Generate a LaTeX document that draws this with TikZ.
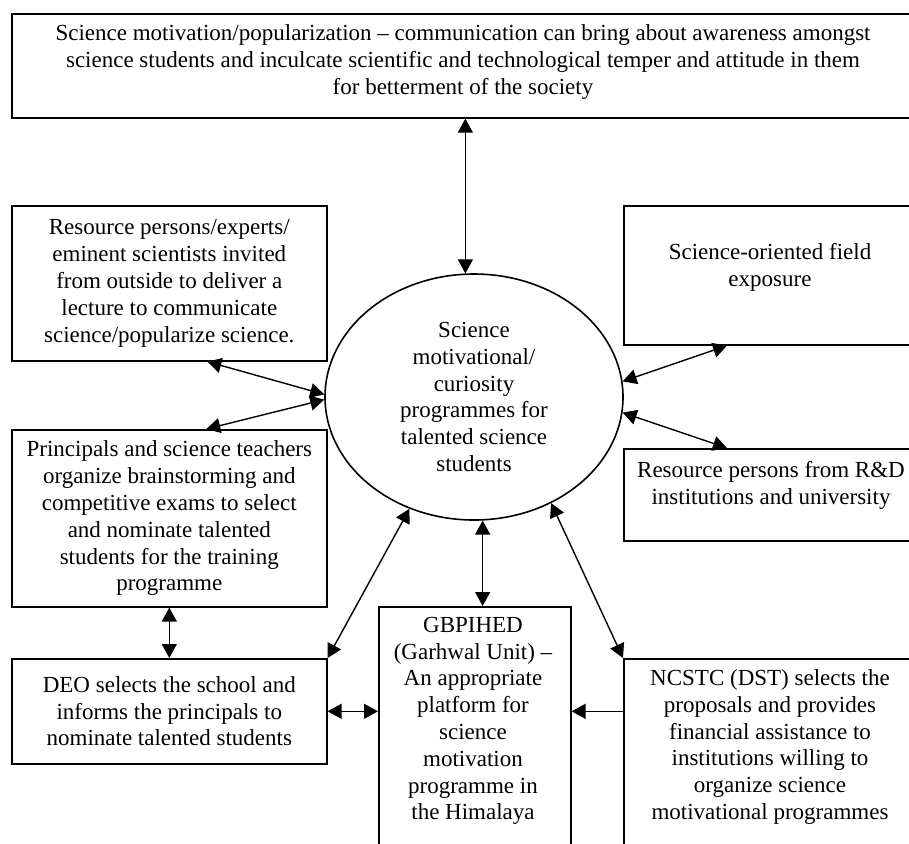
\documentclass[tikz,border=0pt]{standalone}
\usepackage{fontspec}
\setmainfont{Liberation Serif}
\usetikzlibrary{arrows.meta,calc,shapes.geometric}

\begin{document}
\begin{tikzpicture}[x=0.5pt,y=-0.5pt,
  every node/.append style={font=\fontsize{11.5}{13.4}\selectfont},
  box/.style={draw, line width=0.8pt, rectangle, inner sep=0pt, anchor=north west, align=center},
  txt/.style={align=center, inner sep=0pt},
  link/.style={line width=0.7pt, {Triangle[length=7pt,width=7.5pt]}-{Triangle[length=7pt,width=7.5pt]}},
  feed/.style={line width=0.7pt, -{Triangle[length=7pt,width=7.5pt]}},
]
\clip (0,0) rectangle (909,843);

% boxes running off the page edge: frame and text are separate nodes
\node[box, minimum width=459.5pt, minimum height=52pt] (top) at (11,13) {};
\node[txt] (toptext) at (463,62) {Science motivation/popularization – communication can bring about awareness amongst\\
  science students and inculcate scientific and technological temper and attitude in them\\
  for betterment of the society};

\node[box, minimum width=153.5pt, minimum height=69.5pt] (field) at (623,205) {};
\node[txt] (fieldtext) at (770,267) {Science-oriented field\\exposure};

\node[box, minimum width=153.5pt, minimum height=46pt] (rd) at (623,448) {};
\node[txt] (rdtext) at (771,485) {Resource persons from R\&D\\institutions and university};

\node[box, minimum width=96pt, minimum height=132pt] (gbp) at (378,606) {};
\node[txt] (gbptext) at (473,721) {GBPIHED\\(Garhwal Unit) –\\An appropriate\\platform for\\science\\motivation\\programme in\\the Himalaya};

\node[box, minimum width=153.5pt, minimum height=106pt] (ncstc) at (623,658) {};
\node[txt] (ncstctext) at (770,747) {NCSTC (DST) selects the\\proposals and provides\\financial assistance to\\institutions willing to\\organize science\\motivational programmes};

% boxes fully on the page
\node[box, minimum width=157.5pt, minimum height=77.5pt] (res) at (11,205)
  {Resource persons/experts/\\eminent scientists invited\\from outside to deliver a\\lecture to communicate\\science/popularize science.};

\node[box, minimum width=157.5pt, minimum height=88.5pt] (prin) at (11,429)
  {Principals and science teachers\\organize brainstorming and\\competitive exams to select\\and nominate talented\\students for the training\\programme};

\node[box, minimum width=157.5pt, minimum height=52.5pt] (deo) at (11,658)
  {DEO selects the school and\\informs the principals to\\nominate talented students};

% central programme
\node[ellipse, draw, line width=0.8pt, minimum width=149pt, minimum height=123pt,
      inner sep=0pt, align=center] (ell) at (474,397)
  {Science\\motivational/\\curiosity\\programmes for\\talented science\\students};

% connectors
\draw[link] (ell.94 |- top.south) -- (ell.94);
\draw[link] ($(res.south)+(38,0)$) -- (ell.179);
\draw[link] (ell.181) -- ($(prin.north)+(37,0)$);
\draw[link] (prin.south) -- (deo.north);
\draw[link] (deo.east) -- (deo.east -| gbp.west);
\draw[feed] (deo.east -| ncstc.west) -- (deo.east -| gbp.east);
\draw[link] (deo.north east) -- (ell.240);
\draw[link] (ell.306) -- (ncstc.north west);
\draw[link] (ell.274) -- (ell.274 |- gbp.north);
\draw[link] (ell.6) -- ($(field.south west)+(104,0)$);
\draw[link] (ell.354) -- ($(rd.north west)+(104,0)$);
\end{tikzpicture}
\end{document}
